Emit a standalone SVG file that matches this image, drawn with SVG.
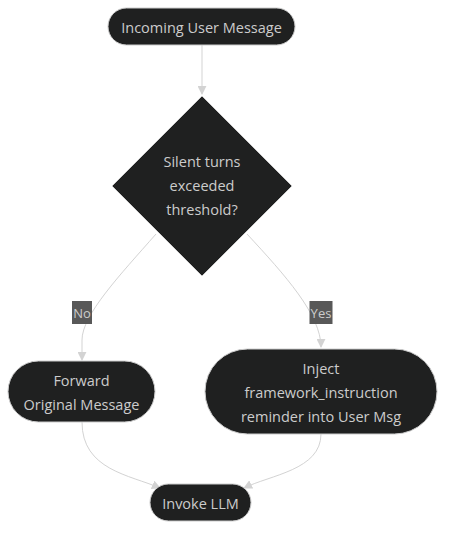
<svg xmlns="http://www.w3.org/2000/svg" width="453" height="540" viewBox="0 0 453 540">
<style>
.node{fill:#1f2020;stroke:#cccccc;stroke-width:1}
.t{font-family:"Trebuchet MS","Open Sans",sans-serif;font-size:14.5px;fill:#cccccc;text-anchor:middle;dominant-baseline:central}
.s{font-size:13px}
.e{fill:none;stroke:#d3d3d3;stroke-width:1}
.lb{fill:#585858}
</style>
<defs>
<marker id="ah" viewBox="0 0 10 10" refX="9" refY="5" markerWidth="9" markerHeight="9" markerUnits="userSpaceOnUse" orient="auto">
<path d="M0,0 L10,5 L0,10 z" fill="#d3d3d3"/>
</marker>
</defs>
<rect width="453" height="540" fill="#ffffff"/>
<g id="edges">
<path class="e" d="M202,45 L202,94" marker-end="url(#ah)"/>
<path class="e" d="M156,234 C120,275 82,315 82,340 L82,360" marker-end="url(#ah)"/>
<path class="e" d="M247,234 C285,275 321,315 321,347" marker-end="url(#ah)"/>
<path class="e" d="M82,422 C82,470 130,475 160,488" marker-end="url(#ah)"/>
<path class="e" d="M321,434 C321,470 270,475 244,488" marker-end="url(#ah)"/>
</g>
<g id="label-no">
<rect class="lb" x="72" y="301" width="20" height="23"/>
<text class="t s" x="82" y="312.5">No</text>
</g>
<g id="label-yes">
<rect class="lb" x="309.5" y="301" width="23" height="23"/>
<text class="t s" x="321" y="312.5">Yes</text>
</g>
<g id="n-incoming">
<rect class="node" x="108" y="8" width="187" height="37" rx="18.5"/>
<text class="t" x="201.5" y="27">Incoming User Message</text>
</g>
<g id="n-decision">
<polygon class="node" points="202,96 292,186 202,276 112,186"/>
<text class="t" x="202" y="161">Silent turns</text>
<text class="t" x="202" y="185">exceeded</text>
<text class="t" x="202" y="209">threshold?</text>
</g>
<g id="n-forward">
<rect class="node" x="8" y="361" width="147" height="61" rx="30.5"/>
<text class="t" x="81.5" y="380">Forward</text>
<text class="t" x="81.5" y="404">Original Message</text>
</g>
<g id="n-inject">
<rect class="node" x="205" y="349" width="232" height="85" rx="42.5"/>
<text class="t" x="321" y="368">Inject</text>
<text class="t" x="321" y="392">framework_instruction</text>
<text class="t" x="321" y="416">reminder into User Msg</text>
</g>
<g id="n-invoke">
<rect class="node" x="150" y="484" width="101" height="37" rx="18.5"/>
<text class="t" x="200.5" y="503">Invoke LLM</text>
</g>
</svg>
